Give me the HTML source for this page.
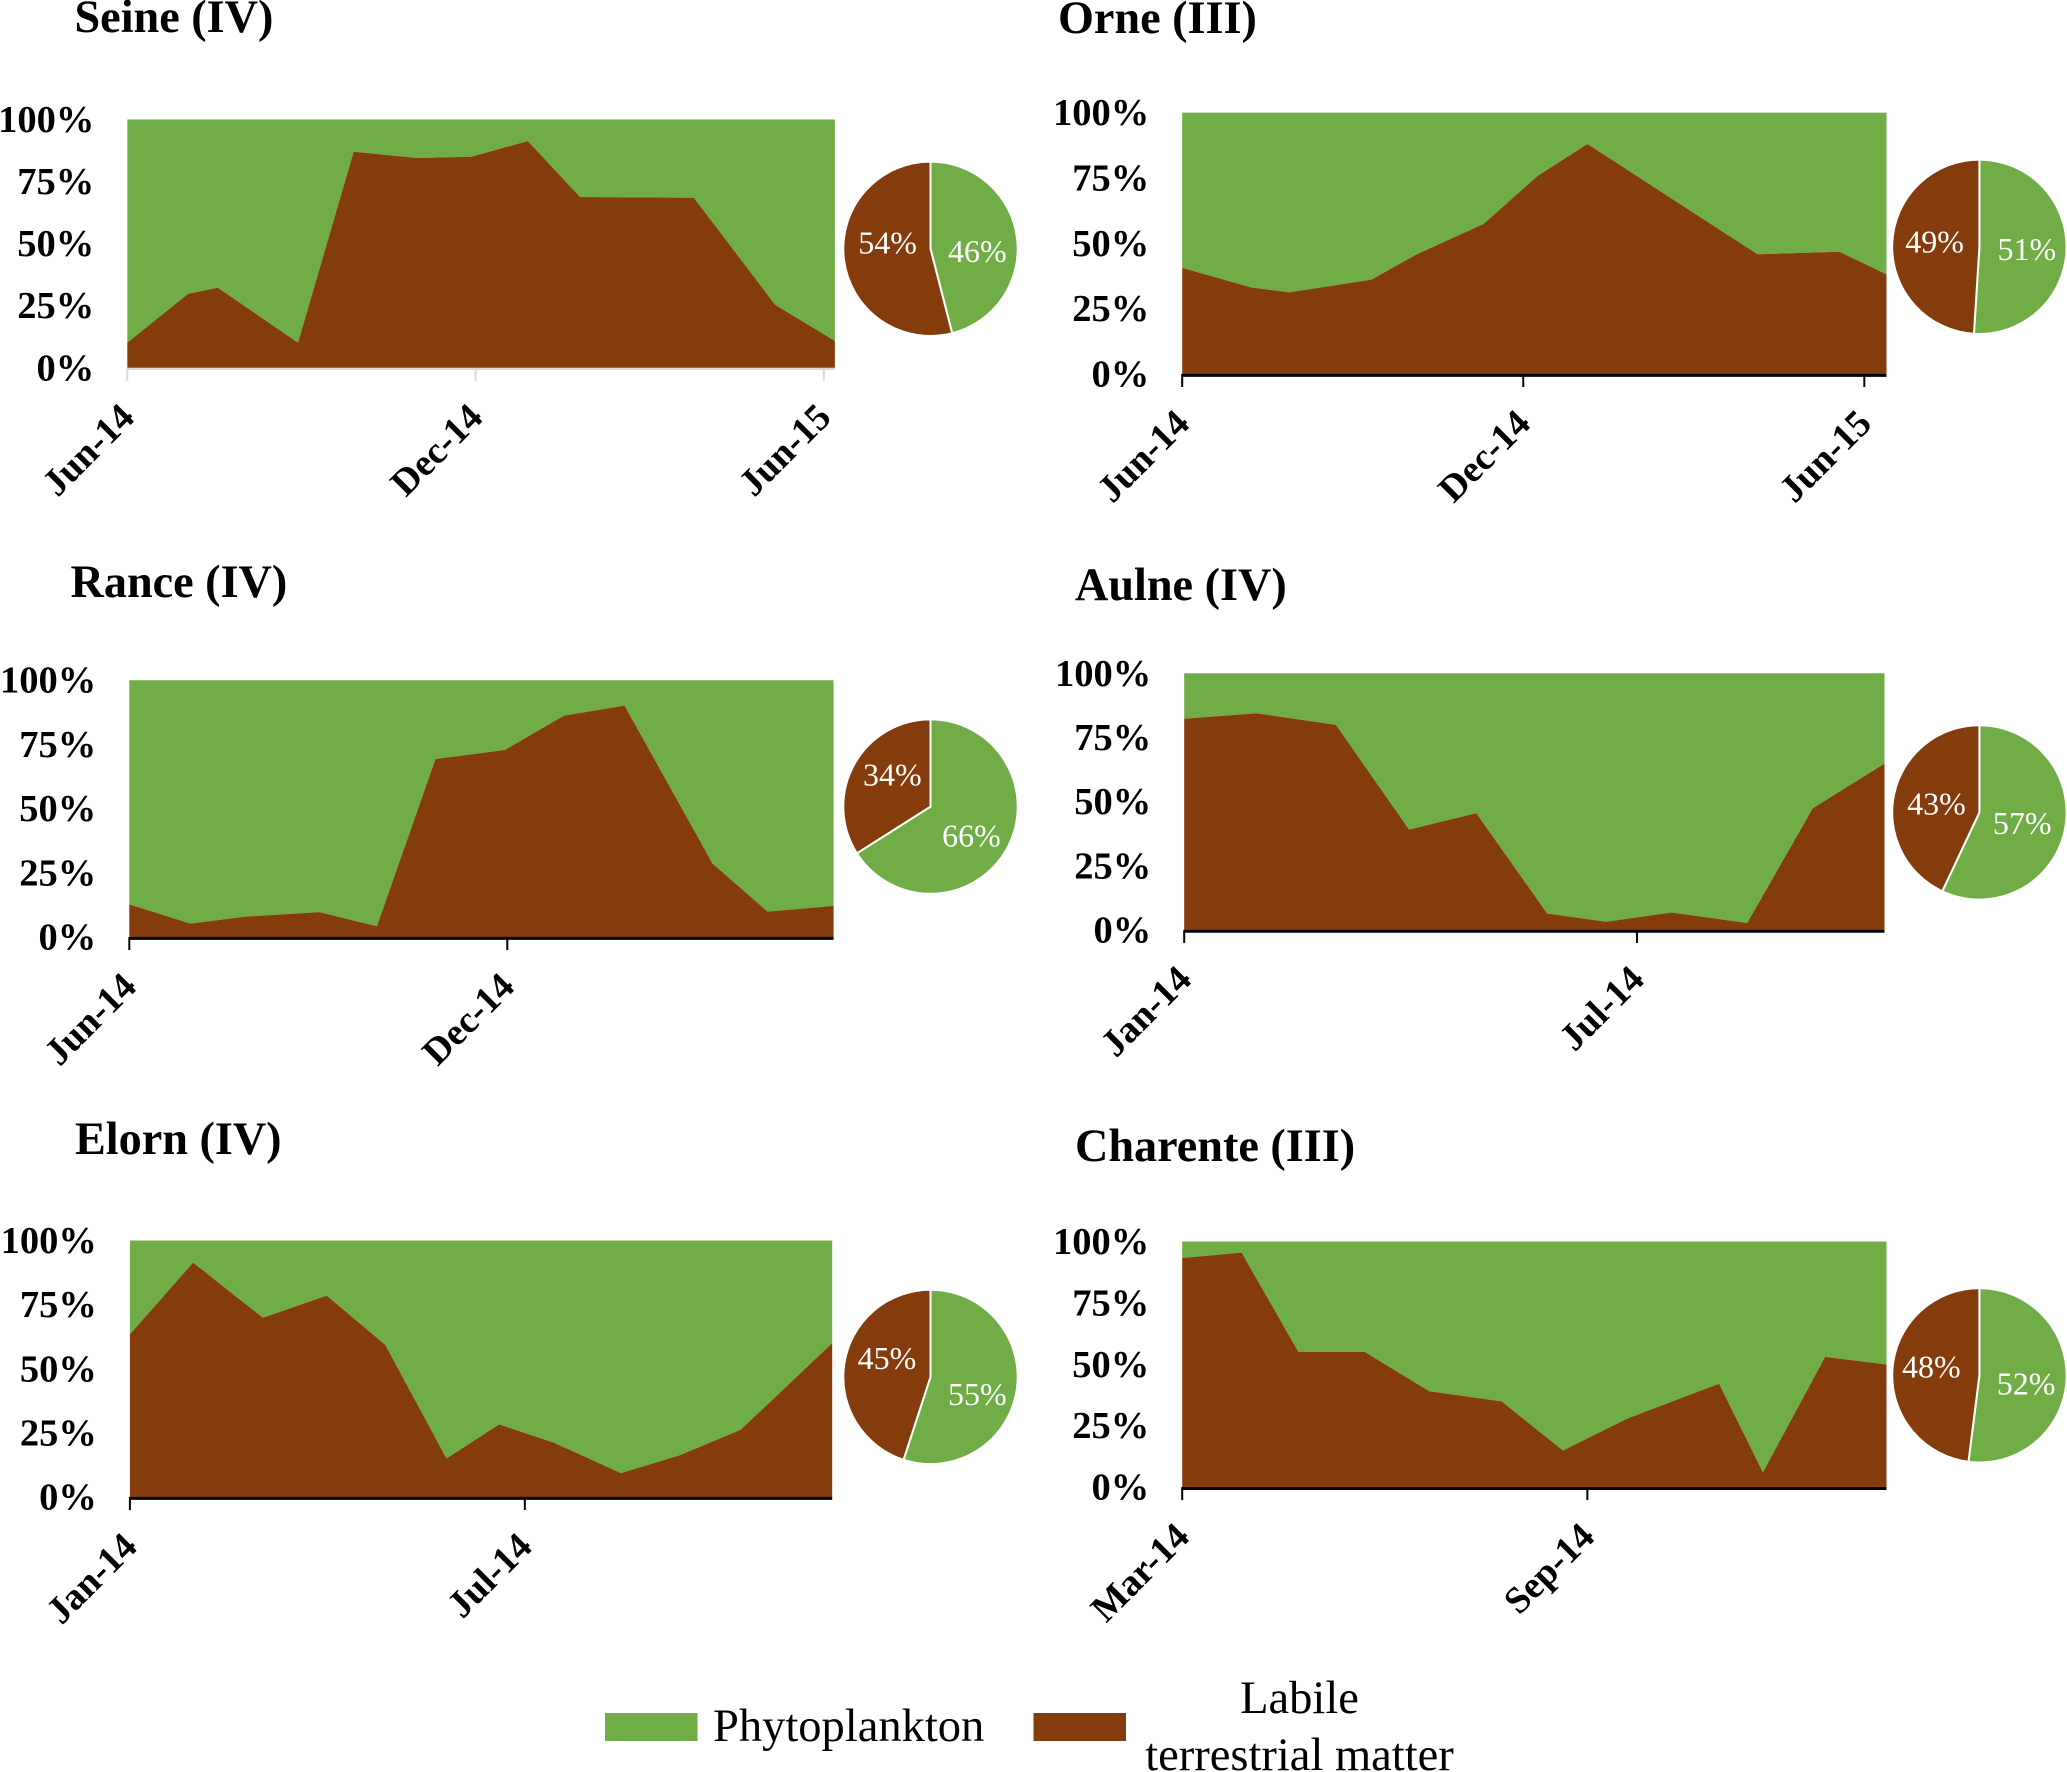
<!DOCTYPE html>
<html lang="en">
<head>
<meta charset="utf-8">
<title>Phytoplankton and labile terrestrial matter by estuary</title>
<style>
  html, body { margin: 0; padding: 0; background: #fff; width: 2067px; height: 1772px; overflow: hidden; }
  svg { display: block; font-family: "Liberation Serif", "Times New Roman", serif; }
  .title { font-size: 46.2px; font-weight: bold; fill: #000; }
  .ytick { font-size: 38.5px; font-weight: bold; fill: #000; text-anchor: end; }
  .xtick { font-size: 37.8px; font-weight: bold; fill: #000; text-anchor: end; }
  .pielabel { font-size: 32px; fill: #fff; text-anchor: middle; }
  .legendtext { font-size: 46.5px; fill: #000; }
</style>
</head>
<body>
<svg id="figure" xmlns="http://www.w3.org/2000/svg" width="2067" height="1772" viewBox="0 0 2067 1772">
  <g id="panel-seine">
    <text class="title" x="74.5" y="32">Seine (IV)</text>
  </g>
  <g id="panel-orne">
    <text class="title" x="1058" y="33">Orne (III)</text>
  </g>
  <g id="panel-rance">
    <text class="title" x="70.5" y="597">Rance (IV)</text>
  </g>
  <g id="panel-aulne">
    <text class="title" x="1075" y="600">Aulne (IV)</text>
  </g>
  <g id="panel-elorn">
    <text class="title" x="75" y="1154">Elorn (IV)</text>
  </g>
  <g id="panel-charente">
    <text class="title" x="1075" y="1161">Charente (III)</text>
  </g>
  <g>
    <rect x="605" y="1713" width="92.5" height="28" fill="#70AD47"></rect>
    <text class="legendtext" x="713" y="1741">Phytoplankton</text>
    <rect x="1033.5" y="1713" width="92.5" height="28" fill="#843C0C"></rect>
    <text class="legendtext" x="1299.5" y="1713" text-anchor="middle">Labile</text>
    <text class="legendtext" x="1299.5" y="1770" text-anchor="middle">terrestrial matter</text>
  </g>
</svg>
<script>
// Shared axis values
const yTickValues = [0, 25, 50, 75, 100];
const yTickLabels = ["0%", "25%", "50%", "75%", "100%"];

// Seine (IV)
const seineMonths = [0, 1.05, 1.56, 2.94, 3.9, 5.0, 5.93, 6.9, 7.8, 9.76, 11.16, 12.19];
const seineLabile = [10.1, 29.8, 32.2, 10.1, 87, 84.5, 85, 91.3, 68.8, 68.5, 25.4, 10.8];
const seinePhytoplankton = [89.9, 70.2, 67.8, 89.9, 13, 15.5, 15, 8.7, 31.2, 31.5, 74.6, 89.2];
const seineTickMonths = [0, 6, 12];
const seineTickLabels = ["Jun-14", "Dec-14", "Jun-15"];
const seinePie = [46, 54];

// Orne (III)
const orneMonths = [0, 1.22, 1.88, 3.33, 4.11, 5.3, 6.26, 7.13, 10.12, 11.56, 12.39];
const orneLabile = [40.6, 33.1, 31.2, 36.1, 45.6, 57.4, 75.9, 88, 45.8, 46.8, 38.1];
const ornePhytoplankton = [59.4, 66.9, 68.8, 63.9, 54.4, 42.6, 24.1, 12, 54.2, 53.2, 61.9];
const orneTickMonths = [0, 6, 12];
const orneTickLabels = ["Jun-14", "Dec-14", "Jun-15"];
const ornePie = [51, 49];

// Rance (IV)
const ranceMonths = [0, 0.97, 1.82, 3.02, 3.93, 4.86, 5.96, 6.9, 7.86, 9.26, 10.13, 11.18];
const ranceLabile = [12.7, 5.2, 7.9, 9.7, 4.2, 69.3, 72.8, 86.2, 90.1, 28.6, 9.9, 12.1];
const rancePhytoplankton = [87.3, 94.8, 92.1, 90.3, 95.8, 30.7, 27.2, 13.8, 9.9, 71.4, 90.1, 87.9];
const ranceTickMonths = [0, 6];
const ranceTickLabels = ["Jun-14", "Dec-14"];
const rancePie = [66, 34];

// Aulne (IV)
const aulneMonths = [0, 0.96, 2.01, 2.98, 3.87, 4.81, 5.59, 6.46, 7.46, 8.33, 9.28];
const aulneLabile = [82.3, 84.4, 79.9, 39.1, 45.5, 6.4, 3.2, 6.8, 2.7, 47.4, 64.8];
const aulnePhytoplankton = [17.7, 15.6, 20.1, 60.9, 54.5, 93.6, 96.8, 93.2, 97.3, 52.6, 35.2];
const aulneTickMonths = [0, 6];
const aulneTickLabels = ["Jan-14", "Jul-14"];
const aulnePie = [57, 43];

// Elorn (IV)
const elornMonths = [0, 0.96, 2.02, 2.99, 3.88, 4.81, 5.61, 6.44, 7.46, 8.35, 9.28, 10.67];
const elornLabile = [63.4, 91.4, 69.9, 78.5, 59.3, 15, 28.3, 21.2, 9.3, 16.2, 26.2, 60];
const elornPhytoplankton = [36.6, 8.6, 30.1, 21.5, 40.7, 85, 71.7, 78.8, 90.7, 83.8, 73.8, 40];
const elornTickMonths = [0, 6];
const elornTickLabels = ["Jan-14", "Jul-14"];
const elornPie = [55, 45];

// Charente (III)
const charenteMonths = [0, 0.88, 1.72, 2.7, 3.66, 4.73, 5.64, 6.59, 7.95, 8.6, 9.52, 10.43];
const charenteLabile = [93.3, 95.5, 55.1, 55.1, 39, 34.9, 14.9, 27.9, 42.1, 6, 53, 49.9];
const charentePhytoplankton = [6.7, 4.5, 44.9, 44.9, 61, 65.1, 85.1, 72.1, 57.9, 94, 47, 50.1];
const charenteTickMonths = [0, 6];
const charenteTickLabels = ["Mar-14", "Sep-14"];
const charentePie = [52, 48];

const SVGNS = "http://www.w3.org/2000/svg";
function shape(parent, tag, attrs, text) {
  const el = document.createElementNS(SVGNS, tag);
  Object.keys(attrs).forEach(function (k) { el.setAttribute(k, attrs[k]); });
  if (text !== undefined) el.textContent = text;
  parent.appendChild(el);
  return el;
}

function drawPanel(p) {
  const g = document.getElementById(p.id);
  const plotW = p.x1 - p.x0;
  const plotH = p.yb - p.yt;
  const lastMonth = p.monthSpan;
  function xAxis(m) { return p.x0 + (m / lastMonth) * plotW; }
  function yAxis(v) { return p.yb - (v / 100) * plotH; }
  const name = p.name;

  // Stacked areas
  const lower = p.months.map(function (m, i) { return xAxis(m).toFixed(1) + "," + yAxis(p.labile[i]).toFixed(1); });
  const upper = p.months.map(function (m, i) { return xAxis(m).toFixed(1) + "," + yAxis(p.labile[i] + p.phyto[i]).toFixed(1); });
  const greenArea = shape(g, "polygon", { points: upper.concat(lower.slice().reverse()).join(" "), fill: "#70AD47" });
  
  
  const base = [xAxis(p.months[p.months.length - 1]).toFixed(1) + "," + yAxis(0).toFixed(1), xAxis(p.months[0]).toFixed(1) + "," + yAxis(0).toFixed(1)];
  const brownArea = shape(g, "polygon", { points: lower.concat(base).join(" "), fill: "#843C0C" });
  
  

  // X axis line and ticks
  const axisLine = shape(g, "line", { x1: p.x0, x2: p.x1, y1: p.yb + p.axisOffset, y2: p.yb + p.axisOffset, stroke: p.axisColor, "stroke-width": p.axisWidth });
  
  
  p.tickMonths.forEach(function (m, i) {
    const tx = xAxis(m);
    const tick = shape(g, "line", { x1: tx, x2: tx, y1: p.yb, y2: p.yb + 13, stroke: p.axisColor, "stroke-width": 2 });
    
    
    const ax = tx + 9;
    const ay = p.yb + 51.5;
    const label = shape(g, "text", { class: "xtick", x: ax, y: ay, transform: "rotate(-45 " + ax + " " + ay + ")" }, p.tickLabels[i]);
    
    
  });

  // Y tick labels
  yTickValues.forEach(function (v, i) {
    const label = shape(g, "text", { class: "ytick", x: p.x0 - 33, y: yAxis(v) + 12.5 }, yTickLabels[i]);
    
    
  });

  // Pie: slices start at 12 o'clock, clockwise
  const total = p.pie[0] + p.pie[1];
  const colors = ["#70AD47", "#843C0C"];
  const sliceNames = ["phytoplankton", "labile"];
  let start = 0;
  p.pie.forEach(function (v, i) {
    const sweep = (v / total) * 2 * Math.PI;
    const end = start + sweep;
    const sx = p.cx + p.r * Math.sin(start), sy = p.cy - p.r * Math.cos(start);
    const ex = p.cx + p.r * Math.sin(end), ey = p.cy - p.r * Math.cos(end);
    const d = "M" + p.cx + " " + p.cy + "L" + sx.toFixed(2) + " " + sy.toFixed(2) +
      "A" + p.r + " " + p.r + " 0 " + (sweep > Math.PI ? 1 : 0) + " 1 " + ex.toFixed(2) + " " + ey.toFixed(2) + "Z";
    const slice = shape(g, "path", { d: d, fill: colors[i], stroke: "#fff", "stroke-width": 2 });
    
    
    start = end;
  });
  p.pie.forEach(function (v, i) {
    const label = shape(g, "text", { class: "pielabel", x: p.labelPos[i][0], y: p.labelPos[i][1] + 10.5 }, v + "%");
    
    
  });
}

drawPanel({ id: "panel-seine", name: "seine", x0: 127.3, x1: 834.9, yt: 119.5, yb: 367.8, monthSpan: 12.19, axisColor: "#d9d9d9", axisWidth: 2, axisOffset: 1.2,
  months: seineMonths, labile: seineLabile, phyto: seinePhytoplankton, tickMonths: seineTickMonths, tickLabels: seineTickLabels, pie: seinePie,
  cx: 930.5, cy: 248.8, r: 87.2, labelPos: [[977.3, 251.4], [887.6, 243]] });
drawPanel({ id: "panel-orne", name: "orne", x0: 1182.2, x1: 1886.5, yt: 112.6, yb: 374, monthSpan: 12.39, axisColor: "#000", axisWidth: 3, axisOffset: 1.4,
  months: orneMonths, labile: orneLabile, phyto: ornePhytoplankton, tickMonths: orneTickMonths, tickLabels: orneTickLabels, pie: ornePie,
  cx: 1979.4, cy: 246.8, r: 87.2, labelPos: [[2026.8, 249.7], [1934.6, 242]] });
drawPanel({ id: "panel-rance", name: "rance", x0: 129.3, x1: 833.6, yt: 680.2, yb: 937, monthSpan: 11.18, axisColor: "#000", axisWidth: 3, axisOffset: 1.4,
  months: ranceMonths, labile: ranceLabile, phyto: rancePhytoplankton, tickMonths: ranceTickMonths, tickLabels: ranceTickLabels, pie: rancePie,
  cx: 930.5, cy: 806.6, r: 87.2, labelPos: [[971.4, 836.2], [892.3, 775.2]] });
drawPanel({ id: "panel-aulne", name: "aulne", x0: 1184.2, x1: 1884.5, yt: 673.3, yb: 929.9, monthSpan: 9.28, axisColor: "#000", axisWidth: 3, axisOffset: 1.4,
  months: aulneMonths, labile: aulneLabile, phyto: aulnePhytoplankton, tickMonths: aulneTickMonths, tickLabels: aulneTickLabels, pie: aulnePie,
  cx: 1979.4, cy: 812.4, r: 87.2, labelPos: [[2022.2, 823.4], [1936.5, 803.8]] });
drawPanel({ id: "panel-elorn", name: "elorn", x0: 129.9, x1: 832.2, yt: 1240.5, yb: 1497, monthSpan: 10.67, axisColor: "#000", axisWidth: 3, axisOffset: 1.4,
  months: elornMonths, labile: elornLabile, phyto: elornPhytoplankton, tickMonths: elornTickMonths, tickLabels: elornTickLabels, pie: elornPie,
  cx: 930.5, cy: 1376.9, r: 87.2, labelPos: [[977.3, 1394.4], [887, 1358.3]] });
drawPanel({ id: "panel-charente", name: "charente", x0: 1182.2, x1: 1886.5, yt: 1241.5, yb: 1487.1, monthSpan: 10.43, axisColor: "#000", axisWidth: 3, axisOffset: 1.4,
  months: charenteMonths, labile: charenteLabile, phyto: charentePhytoplankton, tickMonths: charenteTickMonths, tickLabels: charenteTickLabels, pie: charentePie,
  cx: 1979.4, cy: 1375.3, r: 87.2, labelPos: [[2026.1, 1384.1], [1931.3, 1366.9]] });
</script>
</body>
</html>
